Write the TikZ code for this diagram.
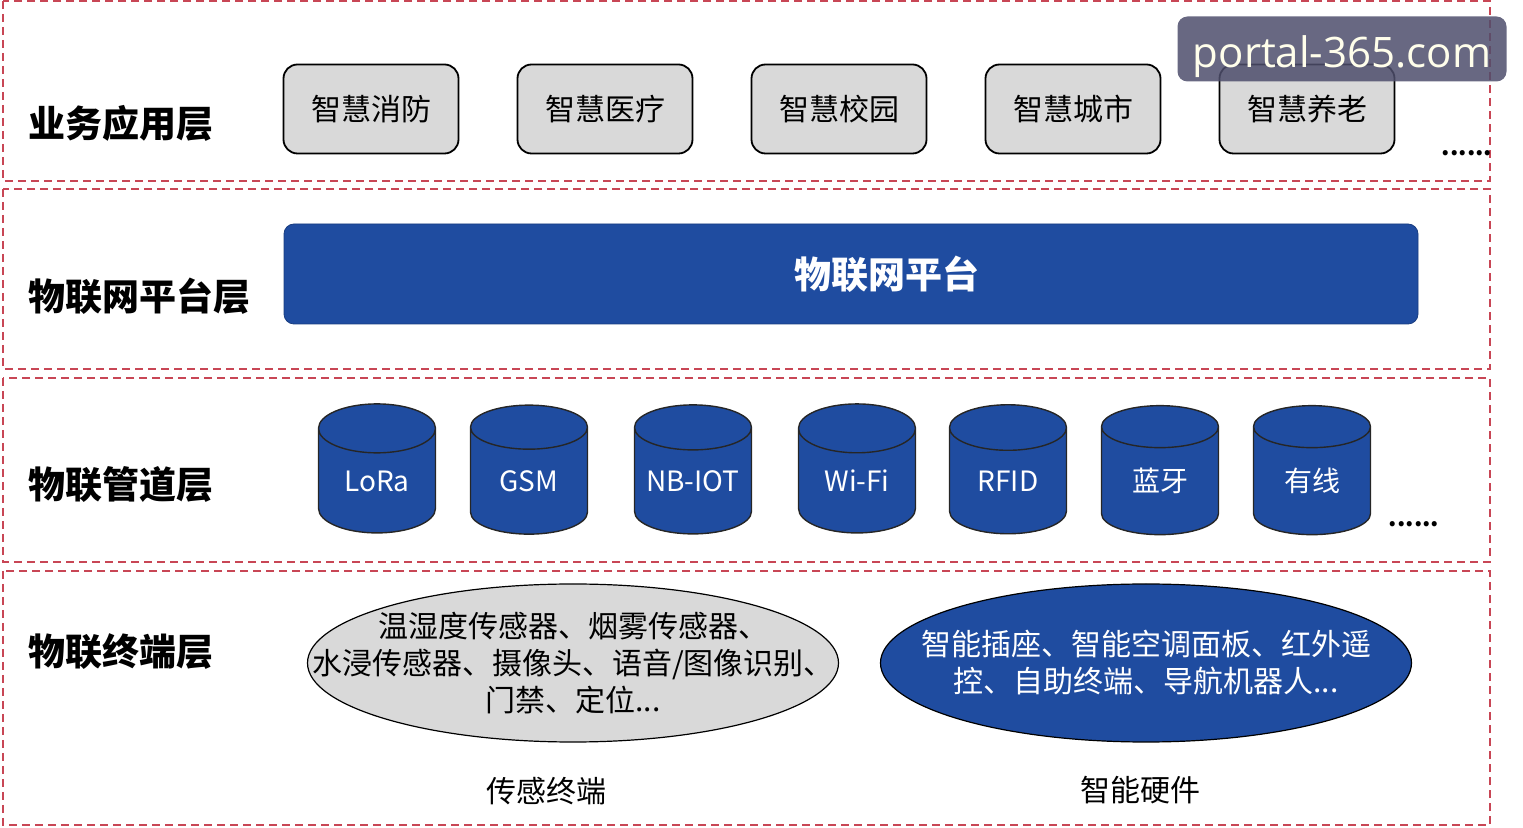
\documentclass[tikz,border=0pt]{standalone}
\usepackage{fontspec}
\setmainfont{Noto Sans CJK SC}
\newfontfamily\markfont{Open Sans}
\usetikzlibrary{shapes.geometric}
\definecolor{iotblue}{RGB}{31,76,160}
\definecolor{boxgray}{RGB}{217,217,217}
\definecolor{framered}{RGB}{200,70,85}
\definecolor{markgray}{RGB}{78,78,108}
\begin{document}
\begin{tikzpicture}[x=0.5pt,y=-0.5pt]
    \tikzstyle{layer} = [draw=framered, line width=0.7pt, dash pattern=on 4pt off 2.5pt]
    \tikzstyle{title} = [anchor=west, inner sep=0pt, font=\bfseries\fontsize{18.5}{22}\selectfont]
    \tikzstyle{app} = [rectangle, rounded corners=7pt, draw, line width=0.9pt, fill=boxgray, minimum width=87.5pt, minimum height=44.5pt, font=\fontsize{15}{18}\selectfont]
    \tikzstyle{pipe} = [cylinder, shape border rotate=90, shape aspect=0.75, draw=black!85, line width=0.7pt, fill=iotblue, text=white, minimum width=58.5pt, minimum height=64.5pt, inner sep=0pt, font=\fontsize{14}{17}\selectfont]
    \tikzstyle{terminal} = [ellipse, draw, line width=0.6pt, minimum width=265.5pt, minimum height=79pt, inner xsep=-38pt, inner ysep=0pt, align=center, font=\fontsize{15}{18.5}\selectfont]
    \tikzstyle{caption} = [font=\fontsize{15}{18}\selectfont]
    \tikzstyle{dots} = [font=\bfseries\fontsize{12}{14}\selectfont]
    \useasboundingbox (0,0) rectangle (1523,828);

    % layer frames
    \draw [layer] (3,1) rectangle (1490,181);
    \draw [layer] (3,189) rectangle (1490,369);
    \draw [layer] (3,378) rectangle (1490,562);
    \draw [layer] (3,571) rectangle (1490,825);

    % layer titles
    \node [title] (apptitle) at (28,123) {业务应用层};
    \node [title] (platformtitle) at (28,296) {物联网平台层};
    \node [title] (pipetitle) at (28,484) {物联管道层};
    \node [title] (terminaltitle) at (28,652) {物联终端层};

    % application layer
    \node [app] (fire) at (371,109) {智慧消防};
    \node [app] (medical) at (605,109) {智慧医疗};
    \node [app] (campus) at (839,109) {智慧校园};
    \node [app] (city) at (1073,109) {智慧城市};
    \node [app] (elderly) at (1307,109) {智慧养老};
    \node [dots] (appmore) at (1467,153) {......};

    % platform layer
    \node [rectangle, rounded corners=5pt, draw=iotblue!80!black, fill=iotblue, minimum width=567pt, minimum height=50pt,
           label={[xshift=18pt, text=white, font=\bfseries\fontsize{18.5}{22}\selectfont]center:物联网平台}] (platform) at (851,274) {};

    % pipe layer
    \node [pipe] (lora) at (377,481) {LoRa};
    \node [pipe] (gsm) at (529,481) {GSM};
    \node [pipe] (nbiot) at (693,481) {\makebox[30pt]{NB-IOT}};
    \node [pipe] (wifi) at (857,481) {Wi-Fi};
    \node [pipe] (rfid) at (1008,481) {RFID};
    \node [pipe] (bluetooth) at (1160,481) {蓝牙};
    \node [pipe] (wired) at (1312,481) {有线};
    \node [dots] (pipemore) at (1414,524) {......};

    % terminal layer
    \node [terminal, fill=boxgray] (sensor) at (573,663) {温湿度传感器、烟雾传感器、\\水浸传感器、摄像头、语音/图像识别、\\门禁、定位...};
    \node [terminal, fill=iotblue, text=white] (hardware) at (1146,663) {智能插座、智能空调面板、红外遥\\控、自助终端、导航机器人...};
    \node [caption] (sensorcap) at (546,791) {传感终端};
    \node [caption] (hardwarecap) at (1140,790) {智能硬件};

    % watermark
    \node [rectangle, rounded corners=5pt, fill=markgray, fill opacity=0.85, minimum width=164.5pt, minimum height=32.5pt] (watermark) at (1342,49) {};
    \node [text=white!92!yellow, font=\markfont\fontsize{21}{24}\selectfont] (marktext) at (1342,57) {portal-365.com};
\end{tikzpicture}
\end{document}
